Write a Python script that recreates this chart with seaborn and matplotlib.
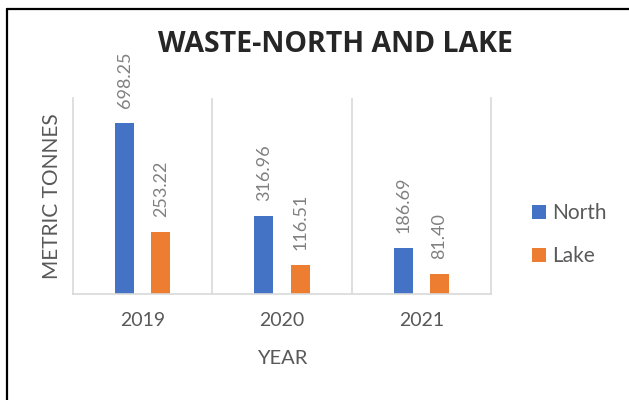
import matplotlib.pyplot as plt
import seaborn as sns
import pandas as pd

years = ['2019', '2020', '2021']
north = [698.25, 316.96, 186.69]
lake = [253.22, 116.51, 81.40]

df = pd.DataFrame({
    'Year': years * 2,
    'Tonnes': north + lake,
    'Region': ['North'] * len(years) + ['Lake'] * len(years),
})

sns.set_style('white')
plt.rcParams['font.family'] = ['Lato', 'DejaVu Sans']

grey = '#595959'
fig = plt.figure(figsize=(6.29, 4.0), dpi=100)
ax = fig.add_axes([73 / 629, 106 / 400, 418 / 629, 196 / 400])

sns.barplot(df, x='Year', y='Tonnes', hue='Region',
            palette={'North': '#4472C4', 'Lake': '#ED7D31'},
            width=0.52, gap=0.48, saturation=1, linewidth=0, ax=ax)

for c in ax.containers:
    ax.bar_label(c, fmt='%.2f', rotation=90, padding=11,
                 fontsize=13, color='#808080')

ax.set_xlim(-0.5, 2.5)
ax.set_ylim(0, 800)
ax.set_yticks([])
for x in [0.5, 1.5]:
    ax.axvline(x, color='#D9D9D9', lw=1.2, zorder=0)
for s in ['left', 'right', 'bottom']:
    ax.spines[s].set_color('#D9D9D9')
    ax.spines[s].set_linewidth(1.2)
ax.spines['top'].set_visible(False)

ax.tick_params(axis='x', length=0, pad=13, labelsize=14, labelcolor=grey)
ax.set_xlabel('YEAR', fontsize=14.5, color=grey, labelpad=15)
ax.set_ylabel('METRIC TONNES', fontsize=15, color=grey, labelpad=8)

ax.legend(loc='upper left', bbox_to_anchor=(532 / 629, 1 - 203 / 400),
          bbox_transform=fig.transFigure, frameon=False, fontsize=15,
          labelcolor=grey, handlelength=0.65, handleheight=0.65,
          handletextpad=0.3, labelspacing=1.1, borderpad=0, borderaxespad=0)

fig.text(335 / 629, 1 - 45 / 400, 'WASTE-NORTH AND LAKE', ha='center',
         va='center', fontsize=20.5, fontweight='bold', family='Open Sans')

# border of the chart area (only left and top visible in the crop)
fig.add_artist(plt.Line2D([7 / 629, 7 / 629], [0, 1 - 9 / 400],
                          transform=fig.transFigure, color='black', lw=1.6))
fig.add_artist(plt.Line2D([7 / 629, 1], [1 - 9 / 400, 1 - 9 / 400],
                          transform=fig.transFigure, color='black', lw=1.6))

fig.savefig('out.png', dpi=100)
